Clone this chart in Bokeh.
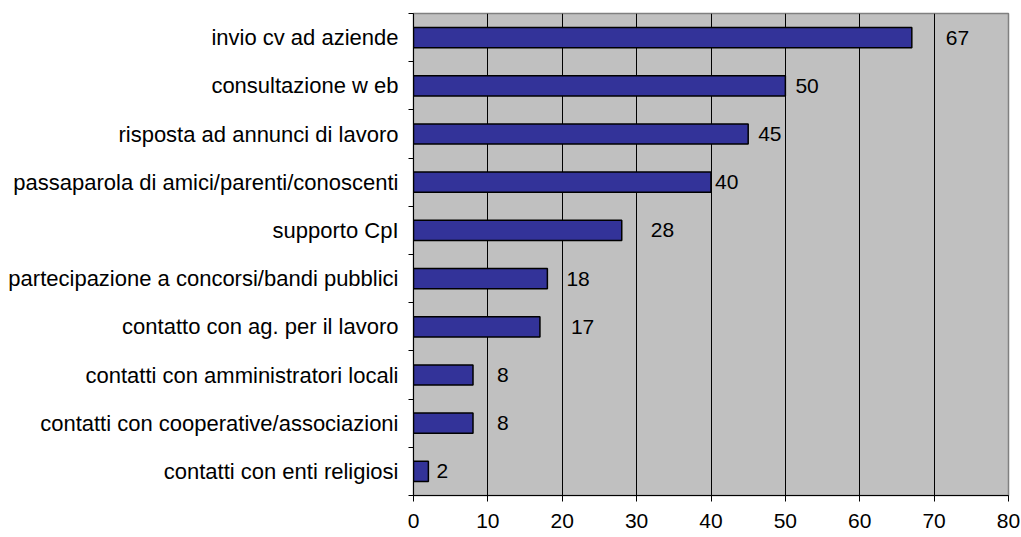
import numpy as np
from bokeh.plotting import figure
from bokeh.models import (ColumnDataSource, Range1d, FixedTicker,
                          CustomJSTickFormatter)
from bokeh.core.properties import value
from bokeh.embed import file_html
from bokeh.resources import INLINE

# ---- data (top to bottom) ----
categories = [
    "invio cv ad aziende",
    "consultazione w eb",
    "risposta ad annunci di lavoro",
    "passaparola di amici/parenti/conoscenti",
    "supporto CpI",
    "partecipazione a concorsi/bandi pubblici",
    "contatto con ag. per il lavoro",
    "contatti con amministratori locali",
    "contatti con cooperative/associazioni",
    "contatti con enti religiosi",
]
values = [67, 50, 45, 40, 28, 18, 17, 8, 8, 2]
x_ticks = [0, 10, 20, 30, 40, 50, 60, 70, 80]

# label nudges in screen pixels (Excel labels were placed by hand)
label_nudge = [34, 10, 10, 4, 29, 19, 31, 24, 24, 8]

FONT = value("Liberation Sans")
FS = "21px"
FS_CAT = "22px"

n = len(categories)
src = ColumnDataSource(dict(
    y=np.arange(n) + 0.5,
    value=values,
    label=[str(v) for v in values],
    nudge=label_nudge,
))

p = figure(width=1021, height=537, output_backend="svg", toolbar_location=None,
           x_range=Range1d(0, 80), y_range=Range1d(n, 0),
           min_border_left=413, min_border_right=13, min_border_top=13,
           min_border_bottom=42)

p.background_fill_color = "#C0C0C0"
p.border_fill_color = "white"
p.outline_line_color = "#808080"
p.outline_line_width = 1.5

# bars
p.hbar(y="y", left=0, right="value", height=0.42, source=src,
       fill_color="#333399", line_color="black", line_width=1.5)

# data labels
p.text(x="value", y="y", text="label", x_offset="nudge", source=src,
       text_align="left", text_baseline="middle",
       text_font=FONT, text_font_size=FS, text_color="black")

# x axis
xa = p.xaxis[0]
xa.ticker = FixedTicker(ticks=x_ticks)
xa.major_label_text_font = "Liberation Sans"
xa.major_label_text_font_size = FS
xa.major_label_text_color = "black"
xa.major_tick_out = 6
xa.major_tick_in = 0
xa.minor_tick_line_color = None
xa.axis_line_color = "black"
xa.major_tick_line_color = "black"
xa.major_label_standoff = 12

# y axis: labels at category centres, ticks at category boundaries
ya = p.yaxis[0]
ya.ticker = FixedTicker(ticks=list(np.arange(n) + 0.5),
                        minor_ticks=list(range(n + 1)))
ya.formatter = CustomJSTickFormatter(args=dict(cats=categories),
                                     code="return cats[Math.round(tick - 0.5)];")
ya.major_label_text_font = "Liberation Sans"
ya.major_label_text_font_size = FS_CAT
ya.major_label_text_color = "black"
ya.major_tick_out = 0
ya.major_tick_in = 0
ya.major_tick_line_color = None
ya.minor_tick_out = 5
ya.minor_tick_in = 0
ya.minor_tick_line_color = "black"
ya.axis_line_color = "black"
ya.major_label_standoff = 10

# grid
p.xgrid.ticker = FixedTicker(ticks=x_ticks[1:-1])
p.xgrid.grid_line_color = "black"
p.xgrid.grid_line_width = 1
p.ygrid.grid_line_color = None

open("out.html", "w").write(file_html(p, INLINE))
